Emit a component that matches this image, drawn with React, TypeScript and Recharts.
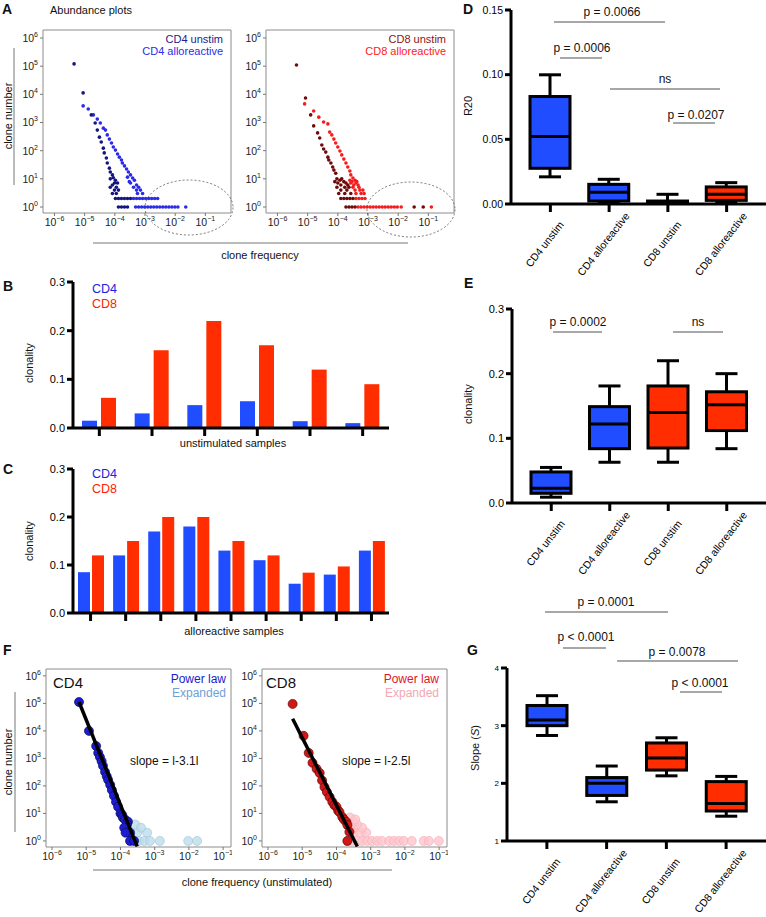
import React from 'react';
import { ScatterChart, Scatter, XAxis, YAxis, ReferenceArea, BarChart, Bar } from 'recharts';

const FONT = '"Liberation Sans", Arial, Helvetica, sans-serif';
const BLUE = '#1f4dff';
const RED = '#ff2d00';

// ---------- A: abundance plots, [log10 clone frequency, log10 clone number] ----------
const cd4UnstimAbund = [
  [-5.35, 5.08], [-5.05, 4.05], [-4.78, 3.27], [-4.65, 2.98], [-4.58, 2.73], [-4.51, 2.48], [-4.45, 2.31],
  [-4.38, 2.09], [-4.35, 1.92], [-4.28, 1.74], [-4.25, 1.56], [-4.18, 1.38], [-4.15, 1.24], [-4.08, 1.14],
  [-4.05, 1.04], [-4.15, 1.0], [-3.98, 0.95], [-3.91, 0.85], [-4.01, 0.85], [-4.08, 0.78], [-3.95, 0.7],
  [-4.15, 0.7], [-3.88, 0.6], [-4.01, 0.6], [-3.95, 0.48], [-4.08, 0.48],
  [-3.98, 0.3], [-3.88, 0.3], [-3.78, 0.3], [-3.68, 0.3], [-3.58, 0.3], [-3.48, 0.3],
  [-3.88, 0], [-3.78, 0], [-3.68, 0], [-3.58, 0],
];
const cd4AlloAbund = [
  [-5.05, 3.59], [-4.88, 3.48], [-4.71, 3.27], [-4.58, 3.12], [-4.48, 2.98], [-4.38, 2.8], [-4.31, 2.73],
  [-4.25, 2.56], [-4.18, 2.41], [-4.11, 2.27], [-4.05, 2.13], [-3.98, 2.02], [-3.91, 1.88], [-3.85, 1.77],
  [-3.78, 1.67], [-3.75, 1.56], [-3.68, 1.46], [-3.61, 1.35], [-3.55, 1.24], [-3.48, 1.14], [-3.58, 1.06],
  [-3.41, 1.03], [-3.35, 0.95], [-3.52, 0.9], [-3.48, 0.85], [-3.28, 0.78], [-3.21, 0.7], [-3.38, 0.7],
  [-3.15, 0.6], [-3.28, 0.6], [-3.08, 0.48], [-3.25, 0.48],
  [-3.38, 0.3], [-3.28, 0.3], [-3.18, 0.3], [-3.08, 0.3], [-2.98, 0.3], [-2.88, 0.3], [-2.78, 0.3], [-2.68, 0.3], [-2.58, 0.3],
  [-3.31, 0], [-3.21, 0], [-3.11, 0], [-3.01, 0], [-2.91, 0], [-2.81, 0], [-2.71, 0], [-2.61, 0], [-2.51, 0],
  [-2.41, 0], [-2.31, 0], [-2.21, 0], [-2.11, 0], [-2.01, 0], [-1.91, 0], [-1.65, 0],
];
const cd8UnstimAbund = [
  [-5.37, 5.04], [-5.07, 3.87], [-4.9, 3.27], [-4.8, 2.88], [-4.67, 2.63], [-4.6, 2.45], [-4.53, 2.2],
  [-4.47, 2.06], [-4.4, 1.95], [-4.33, 1.77], [-4.3, 1.67], [-4.23, 1.56], [-4.17, 1.42], [-4.13, 1.31],
  [-4.07, 1.2], [-4.03, 1.0], [-3.87, 1.0], [-3.93, 0.95], [-4.1, 0.9], [-3.8, 0.9], [-4.0, 0.85], [-3.73, 0.85],
  [-3.9, 0.78], [-3.67, 0.78], [-4.03, 0.7], [-3.77, 0.7], [-3.63, 0.7], [-3.9, 0.6], [-3.7, 0.6],
  [-3.97, 0.48], [-3.77, 0.48], [-3.57, 0.48],
  [-3.9, 0.3], [-3.8, 0.3], [-3.7, 0.3], [-3.6, 0.3], [-3.5, 0.3],
  [-3.73, 0], [-3.63, 0], [-3.53, 0], [-3.43, 0], [-1.47, 0], [-1.17, 0],
];
const cd8AlloAbund = [
  [-5.1, 3.66], [-4.8, 3.41], [-4.63, 3.19], [-4.47, 3.02], [-4.33, 2.95], [-4.27, 2.66], [-4.2, 2.56],
  [-4.13, 2.41], [-4.07, 2.27], [-4.0, 2.13], [-3.93, 1.99], [-3.87, 1.85], [-3.8, 1.7], [-3.73, 1.56],
  [-3.67, 1.42], [-3.6, 1.28], [-3.57, 1.14], [-3.5, 1.03], [-3.6, 0.95], [-3.43, 0.95], [-3.53, 0.9],
  [-3.37, 0.9], [-3.57, 0.85], [-3.4, 0.85], [-3.47, 0.78], [-3.33, 0.78], [-3.5, 0.7], [-3.3, 0.7],
  [-3.43, 0.6], [-3.27, 0.6], [-3.17, 0.6], [-3.4, 0.48], [-3.23, 0.48], [-3.13, 0.48],
  [-3.4, 0.3], [-3.3, 0.3], [-3.2, 0.3], [-3.1, 0.3],
  [-3.33, 0], [-3.23, 0], [-3.13, 0], [-3.03, 0], [-2.93, 0], [-2.83, 0], [-2.73, 0], [-2.63, 0], [-2.53, 0],
  [-2.43, 0], [-2.33, 0], [-2.23, 0], [-2.13, 0], [-2.03, 0], [-1.9, 0], [-0.9, 0],
];

// ---------- F: power law fits ----------
const cd4PowerLaw = [
  [-5.21, 5.05], [-4.92, 4.0], [-4.71, 3.45], [-4.65, 3.2], [-4.6, 3.05], [-4.55, 2.9], [-4.51, 2.73],
  [-4.45, 2.51], [-4.4, 2.35], [-4.36, 2.22], [-4.3, 2.04], [-4.25, 1.85], [-4.19, 1.64], [-4.13, 1.42],
  [-4.07, 1.24], [-4.0, 1.0], [-3.95, 0.95], [-3.93, 0.85], [-3.87, 0.78], [-3.78, 0.7], [-3.81, 0.6],
  [-3.89, 0.48], [-3.72, 0.3], [-3.85, 0.3], [-3.72, 0], [-3.6, 0],
];
const cd4Expanded = [
  [-3.51, 0.3], [-3.22, 0.3], [-3.57, 0.6], [-3.4, 0.48], [-3.46, 0], [-3.3, 0], [-3.14, 0], [-2.85, 0], [-2.02, 0], [-1.76, 0],
];
const cd4Fit = [[-5.21, 5.05], [-3.51, -0.2]];
const cd8PowerLaw = [
  [-5.28, 4.98], [-4.96, 3.82], [-4.81, 3.2], [-4.7, 2.84], [-4.58, 2.62], [-4.49, 2.47], [-4.42, 2.2],
  [-4.35, 1.96], [-4.28, 1.78], [-4.2, 1.6], [-4.12, 1.42], [-4.06, 1.3], [-4.0, 1.24], [-3.95, 1.1],
  [-3.91, 1.05], [-3.83, 0.87], [-3.78, 0.78], [-3.71, 0.69], [-3.68, 0.58], [-3.62, 0.33], [-3.68, 0],
];
const cd8Expanded = [
  [-3.68, 0], [-3.54, 0], [-3.39, 0], [-3.25, 0], [-3.1, 0], [-2.96, 0], [-2.81, 0], [-2.67, 0], [-2.46, 0],
  [-2.32, 0], [-2.17, 0], [-2.03, 0], [-1.8, 0], [-1.45, 0], [-1.3, 0], [-1.01, 0],
  [-3.62, 0.3], [-3.5, 0.3], [-3.3, 0.3], [-3.13, 0.3], [-3.48, 0.48], [-3.25, 0.48], [-3.55, 0.6],
  [-3.4, 0.6], [-3.5, 0.7], [-3.6, 0.85], [-3.45, 0.78],
];
const cd8Fit = [[-5.28, 4.44], [-3.39, -0.2]];

const logXTicks = [-6, -5, -4, -3, -2, -1];
const logYTicks = [0, 1, 2, 3, 4, 5, 6];

// ---------- B / C: clonality per sample ----------
const unstimSamples = ['U1', 'U2', 'U3', 'U4', 'U5', 'U6'];
const unstimCD4 = [0.015, 0.03, 0.047, 0.055, 0.014, 0.01];
const unstimCD8 = [0.062, 0.16, 0.22, 0.17, 0.12, 0.09];
const alloSamples = ['A1', 'A2', 'A3', 'A4', 'A5', 'A6', 'A7', 'A8', 'A9'];
const alloCD4 = [0.085, 0.12, 0.17, 0.18, 0.13, 0.11, 0.061, 0.08, 0.13];
const alloCD8 = [0.12, 0.15, 0.2, 0.2, 0.15, 0.12, 0.084, 0.097, 0.15];
const clonalityTicks = [0, 0.1, 0.2, 0.3];

// ---------- D / E / G: box plots ----------
const groups = ['CD4 unstim', 'CD4 alloreactive', 'CD8 unstim', 'CD8 alloreactive'];
const r20Min = [0.021, 0.0008, 0, 0.0015];
const r20Q1 = [0.0276, 0.0023, 0.0003, 0.0028];
const r20Median = [0.0522, 0.009, 0.0012, 0.0075];
const r20Q3 = [0.0831, 0.0152, 0.0023, 0.0132];
const r20Max = [0.0999, 0.0191, 0.0075, 0.0165];

const cloMin = [0.009, 0.063, 0.063, 0.084];
const cloQ1 = [0.015, 0.084, 0.085, 0.112];
const cloMedian = [0.023, 0.122, 0.14, 0.152];
const cloQ3 = [0.048, 0.149, 0.181, 0.172];
const cloMax = [0.055, 0.181, 0.22, 0.2];

const slopeMin = [2.83, 1.68, 2.13, 1.43];
const slopeQ1 = [3.0, 1.79, 2.23, 1.52];
const slopeMedian = [3.1, 2.0, 2.44, 1.65];
const slopeQ3 = [3.35, 2.1, 2.7, 2.03];
const slopeMax = [3.52, 2.3, 2.79, 2.12];

const boxFills = [BLUE, BLUE, RED, RED];

const toPts = (arr) => arr.map(([x, y]) => ({ x, y }));
const boxRows = (mn, q1, md, q3, mx) =>
  groups.map((name, i) => ({ name, range: [mn[i], mx[i]], min: mn[i], q1: q1[i], med: md[i], q3: q3[i], max: mx[i], fill: boxFills[i] }));
const sampleRows = (names, cd4, cd8) => names.map((name, i) => ({ name, cd4: cd4[i], cd8: cd8[i] }));

const fmtExp = (v) => String(v).replace('-', '\u2212');

const PowTickX = ({ x, y, payload }) => (
  <text x={x} y={y} dy={8} textAnchor="middle" fontSize={10.5} fill="#222" fontFamily={FONT}>
    10<tspan dy={-5} fontSize={7}>{fmtExp(payload.value)}</tspan>
  </text>
);
const PowTickY = ({ x, y, payload }) => (
  <text x={x} y={y} dy={4} textAnchor="end" fontSize={10.5} fill="#222" fontFamily={FONT}>
    10<tspan dy={-5} fontSize={7}>{fmtExp(payload.value)}</tspan>
  </text>
);

const dot = (r, fill, stroke = 'none', opacity = 1) => (p) =>
  <circle cx={p.cx} cy={p.cy} r={r} fill={fill} fillOpacity={opacity} stroke={stroke} strokeWidth={0.7} />;

const LogPanel = ({ left, top, height, yAxisWidth, marginTop, xDomain, yDomain, children }) => (
  <div style={{ position: 'absolute', left, top }}>
    <ScatterChart width={232} height={height} margin={{ top: marginTop, right: 1, bottom: 0, left: 0 }}>
      <XAxis type="number" dataKey="x" domain={xDomain} ticks={logXTicks} allowDataOverflow interval={0}
        axisLine={false} tickSize={3} tickLine={{ stroke: '#777' }} height={20} tick={(p) => <PowTickX {...p} />} />
      <YAxis type="number" dataKey="y" domain={yDomain} ticks={logYTicks} allowDataOverflow interval={0}
        axisLine={false} tickSize={3} tickLine={{ stroke: '#777' }} width={yAxisWidth} tick={(p) => <PowTickY {...p} />} />
      <ReferenceArea x1={xDomain[0]} x2={xDomain[1]} y1={yDomain[0]} y2={yDomain[1]} fill="none" stroke="#8c8c8c" strokeWidth={1} ifOverflow="visible" />
      {children}
    </ScatterChart>
  </div>
);

const BoxShape = (props) => {
  const { x, y, width, height, payload } = props;
  const top = Math.min(y, y + height);
  const h = Math.abs(height);
  const k = h / (payload.max - payload.min || 1);
  const py = (v) => top + (payload.max - v) * k;
  const cx = x + width / 2;
  const cap = 11;
  const s = { stroke: '#000', strokeWidth: 3 };
  return (
    <g>
      <line x1={cx} x2={cx} y1={py(payload.max)} y2={py(payload.q3)} {...s} />
      <line x1={cx} x2={cx} y1={py(payload.q1)} y2={py(payload.min)} {...s} />
      <line x1={cx - cap} x2={cx + cap} y1={py(payload.max)} y2={py(payload.max)} {...s} />
      <line x1={cx - cap} x2={cx + cap} y1={py(payload.min)} y2={py(payload.min)} {...s} />
      <rect x={x} y={py(payload.q3)} width={width} height={Math.max(py(payload.q1) - py(payload.q3), 0.5)} fill={payload.fill} {...s} />
      <line x1={x} x2={x + width} y1={py(payload.med)} y2={py(payload.med)} {...s} />
    </g>
  );
};

const RotTick = ({ x, y, payload }) => {
  const ax = x - 6;
  const ay = y + 30;
  return (
    <text x={ax} y={ay} textAnchor="middle" dominantBaseline="central" transform={`rotate(-52, ${ax}, ${ay})`}
      fontSize={10.5} fill="#000" fontFamily={FONT}>{payload.value}</text>
  );
};

const BoxPanel = ({ top, height, yAxisWidth, marginTop, rows, domain, ticks, fmt, tickFont }) => (
  <div style={{ position: 'absolute', left: 440, top }}>
    <BarChart width={326} height={height} data={rows} margin={{ top: marginTop, right: 0, bottom: 0, left: 0 }}>
      <XAxis dataKey="name" type="category" height={76} padding={{ left: 10, right: 10 }} interval={0}
        axisLine={{ stroke: '#000', strokeWidth: 3 }} tickLine={{ stroke: '#000', strokeWidth: 3 }} tickSize={8}
        tick={(p) => <RotTick {...p} />} />
      <YAxis type="number" domain={domain} ticks={ticks} width={yAxisWidth} interval={0} allowDataOverflow
        axisLine={{ stroke: '#000', strokeWidth: 3 }} tickLine={{ stroke: '#000', strokeWidth: 3 }} tickSize={6}
        tick={{ fontSize: tickFont, fill: '#000', fontFamily: FONT }} tickFormatter={fmt} />
      <Bar dataKey="range" barSize={40} shape={(p) => <BoxShape {...p} />} isAnimationActive={false} />
    </BarChart>
  </div>
);

const SamplePanel = ({ top, marginTop, rows, barSize, barGap }) => (
  <div style={{ position: 'absolute', left: 0, top }}>
    <BarChart width={400} height={180} data={rows} barGap={barGap} margin={{ top: marginTop, right: 11, bottom: 0, left: 0 }}>
      <XAxis dataKey="name" type="category" height={22} interval={0}
        axisLine={{ stroke: '#000', strokeWidth: 3 }} tickLine={{ stroke: '#000', strokeWidth: 3 }} tickSize={8}
        tick={() => <g />} />
      <YAxis type="number" domain={[0, 0.3]} ticks={clonalityTicks} width={73} interval={0}
        axisLine={{ stroke: '#000', strokeWidth: 3 }} tickLine={{ stroke: '#000', strokeWidth: 3 }} tickSize={6}
        tick={{ fontSize: 11, fill: '#000', fontFamily: FONT }} tickFormatter={(v) => v.toFixed(1)} />
      <Bar dataKey="cd4" fill={BLUE} barSize={barSize} isAnimationActive={false} />
      <Bar dataKey="cd8" fill={RED} barSize={barSize} isAnimationActive={false} />
    </BarChart>
  </div>
);

const T = ({ x, y, children, size = 11, anchor = 'start', fill = '#111', weight = 'normal', rotate = false }) => (
  <text x={x} y={y} fontSize={size} textAnchor={anchor} fill={fill} fontWeight={weight} fontFamily={FONT}
    dominantBaseline={rotate ? 'central' : undefined} transform={rotate ? `rotate(-90, ${x}, ${y})` : undefined}>
    {children}
  </text>
);

const Bracket = ({ x1, x2, y, label, cx, ty }) => (
  <g>
    <line x1={x1} x2={x2} y1={y} y2={y} stroke="#8a8a8a" strokeWidth={1.5} />
    <T x={cx} y={ty} size={12} anchor="middle">{label}</T>
  </g>
);

const A_X = [-6.38, -0.15];
const A_Y = [-0.213, 6.284];
const F_X = [-6.175, -0.77];
const F_Y = [-0.22, 6.25];

export default function App() {
  return (
    <div style={{ position: 'absolute', left: 0, top: 0, width: 766, height: 917, background: '#fff', fontFamily: FONT, overflow: 'hidden' }}>
      {/* A */}
      <LogPanel left={0} top={20} height={213} yAxisWidth={43} marginTop={10} xDomain={A_X} yDomain={A_Y}>
        <Scatter data={toPts(cd4AlloAbund)} shape={dot(1.8, '#2a2ae8')} isAnimationActive={false} />
        <Scatter data={toPts(cd4UnstimAbund)} shape={dot(1.8, '#15157e')} isAnimationActive={false} />
      </LogPanel>
      <LogPanel left={223} top={20} height={213} yAxisWidth={43} marginTop={10} xDomain={A_X} yDomain={A_Y}>
        <Scatter data={toPts(cd8AlloAbund)} shape={dot(1.8, '#f41c1c')} isAnimationActive={false} />
        <Scatter data={toPts(cd8UnstimAbund)} shape={dot(1.8, '#6e0a0a')} isAnimationActive={false} />
      </LogPanel>

      {/* B, C */}
      <SamplePanel top={270} marginTop={12} rows={sampleRows(unstimSamples, unstimCD4, unstimCD8)} barSize={15} barGap={4} />
      <SamplePanel top={455} marginTop={14} rows={sampleRows(alloSamples, alloCD4, alloCD8)} barSize={12} barGap={2} />

      {/* F */}
      <LogPanel left={0} top={660} height={207} yAxisWidth={46} marginTop={9} xDomain={F_X} yDomain={F_Y}>
        <Scatter data={toPts(cd4Expanded)} shape={dot(4.5, '#b8dbe9', '#a4cadb', 0.75)} isAnimationActive={false} />
        <Scatter data={toPts(cd4PowerLaw)} shape={dot(4.5, '#1c1cd0', '#0c0c60')} isAnimationActive={false} />
        <Scatter data={toPts(cd4Fit)} line={{ stroke: '#000', strokeWidth: 3.5 }} shape={() => <g />} isAnimationActive={false} />
      </LogPanel>
      <LogPanel left={216} top={660} height={207} yAxisWidth={46} marginTop={9} xDomain={F_X} yDomain={F_Y}>
        <Scatter data={toPts(cd8Expanded)} shape={dot(4.5, '#ffc4cc', '#f5b0bb', 0.8)} isAnimationActive={false} />
        <Scatter data={toPts(cd8PowerLaw)} shape={dot(4.5, '#cf1818', '#6a0000')} isAnimationActive={false} />
        <Scatter data={toPts(cd8Fit)} line={{ stroke: '#000', strokeWidth: 3.5 }} shape={() => <g />} isAnimationActive={false} />
      </LogPanel>

      {/* D, E, G */}
      <BoxPanel top={0} height={280} yAxisWidth={71} marginTop={10} rows={boxRows(r20Min, r20Q1, r20Median, r20Q3, r20Max)}
        domain={[0, 0.15]} ticks={[0, 0.05, 0.1, 0.15]} fmt={(v) => v.toFixed(2)} tickFont={10.5} />
      <BoxPanel top={290} height={289} yAxisWidth={72} marginTop={19} rows={boxRows(cloMin, cloQ1, cloMedian, cloQ3, cloMax)}
        domain={[0, 0.3]} ticks={clonalityTicks} fmt={(v) => v.toFixed(1)} tickFont={11} />
      <BoxPanel top={650} height={267} yAxisWidth={67} marginTop={18} rows={boxRows(slopeMin, slopeQ1, slopeMedian, slopeQ3, slopeMax)}
        domain={[1, 4]} ticks={[1, 2, 3, 4]} fmt={(v) => String(v)} tickFont={8} />

      {/* annotations */}
      <svg width={766} height={917} style={{ position: 'absolute', left: 0, top: 0, pointerEvents: 'none' }}>
        <T x={2} y={14} size={14} weight="bold">A</T>
        <T x={50} y={14} size={11}>Abundance plots</T>
        <T x={223} y={43} anchor="end" fill="#1c1c8c">CD4 unstim</T>
        <T x={223} y={55} anchor="end" fill="#2b2bea">CD4 alloreactive</T>
        <T x={446} y={43} anchor="end" fill="#8a1414">CD8 unstim</T>
        <T x={446} y={55} anchor="end" fill="#ff2020">CD8 alloreactive</T>
        <T x={8} y={116} rotate anchor="middle">clone number</T>
        <line x1={14} x2={14} y1={48} y2={185} stroke="#777" strokeWidth={1} />
        <line x1={93} x2={408} y1={243} y2={243} stroke="#777" strokeWidth={1} />
        <T x={260} y={259} anchor="middle">clone frequency</T>
        <ellipse cx={189} cy={207.5} rx={44} ry={27.5} fill="none" stroke="#555" strokeWidth={0.8} strokeDasharray="2 2" />
        <ellipse cx={411} cy={209.5} rx={44} ry={27.5} fill="none" stroke="#555" strokeWidth={0.8} strokeDasharray="2 2" />

        <T x={3} y={291} size={14} weight="bold">B</T>
        <T x={92} y={293} size={12.5} fill="#2222e0">CD4</T>
        <T x={92} y={308} size={12.5} fill="#ff2200">CD8</T>
        <T x={29} y={363} rotate anchor="middle">clonality</T>
        <T x={233} y={447} anchor="middle">unstimulated samples</T>

        <T x={3} y={474} size={14} weight="bold">C</T>
        <T x={92} y={478} size={12.5} fill="#2222e0">CD4</T>
        <T x={92} y={493} size={12.5} fill="#ff2200">CD8</T>
        <T x={29} y={541} rotate anchor="middle">clonality</T>
        <T x={234} y={635} anchor="middle">alloreactive samples</T>

        <T x={3} y={655} size={14} weight="bold">F</T>
        <T x={53} y={688} size={15}>CD4</T>
        <T x={226} y={683} size={12} anchor="end" fill="#1a1ad0">Power law</T>
        <T x={226} y={697} size={12} anchor="end" fill="#6f9fd6">Expanded</T>
        <T x={130} y={765} size={12}>slope = l-3.1l</T>
        <T x={266} y={688} size={15}>CD8</T>
        <T x={439} y={683} size={12} anchor="end" fill="#e0142a">Power law</T>
        <T x={439} y={697} size={12} anchor="end" fill="#f5a6b0">Expanded</T>
        <T x={342} y={765} size={12}>slope = l-2.5l</T>
        <T x={8} y={762} rotate anchor="middle">clone number</T>
        <line x1={15} x2={15} y1={692} y2={832} stroke="#777" strokeWidth={1} />
        <line x1={93} x2={392} y1={870} y2={870} stroke="#777" strokeWidth={1} />
        <T x={257} y={886} anchor="middle">clone frequency (unstimulated)</T>

        <T x={463} y={14} size={14} weight="bold">D</T>
        <T x={468} y={106} rotate anchor="middle">R20</T>
        <Bracket x1={554} x2={665} y={22} cx={612} ty={16} label="p = 0.0066" />
        <Bracket x1={560} x2={602} y={58} cx={582} ty={52} label="p = 0.0006" />
        <Bracket x1={610} x2={720} y={89} cx={665} ty={83} label="ns" />
        <Bracket x1={673} x2={715} y={123} cx={696} ty={119} label="p = 0.0207" />

        <T x={464} y={288} size={14} weight="bold">E</T>
        <T x={468} y={404} rotate anchor="middle">clonality</T>
        <Bracket x1={553} x2={602} y={332} cx={578} ty={326} label="p = 0.0002" />
        <Bracket x1={673} x2={723} y={332} cx={698} ty={326} label="ns" />

        <T x={467} y={655} size={14} weight="bold">G</T>
        <text x={475} y={748} fontSize={11} textAnchor="middle" dominantBaseline="central" fill="#111" fontFamily={FONT}
          transform="rotate(-90, 475, 748)">Slope (<tspan fontStyle="italic">S</tspan>)</text>
        <Bracket x1={545} x2={668} y={612} cx={606} ty={606} label="p = 0.0001" />
        <Bracket x1={563} x2={606} y={648} cx={586} ty={641} label="p < 0.0001" />
        <Bracket x1={617} x2={738} y={661} cx={677} ty={656} label="p = 0.0078" />
        <Bracket x1={680} x2={722} y={692} cx={700} ty={687} label="p < 0.0001" />
      </svg>
    </div>
  );
}
